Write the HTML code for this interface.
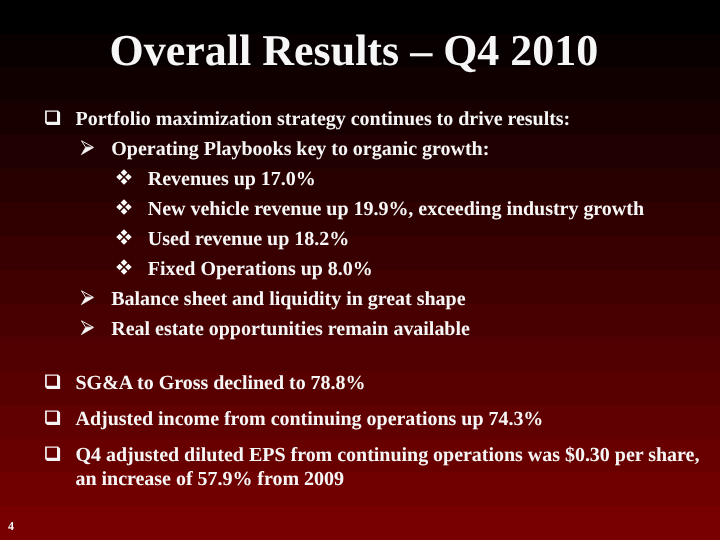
<!DOCTYPE html>
<html><head><meta charset="utf-8"><title>Overall Results – Q4 2010</title>
<style>
html,body{margin:0;padding:0;}
body{width:720px;height:540px;overflow:hidden;position:relative;
 background:linear-gradient(to bottom,#000000 0.0px,#000000 33.75px,#080000 33.75px,#080000 67.5px,#100000 67.5px,#100000 101.25px,#180000 101.25px,#180000 135.0px,#200000 135.0px,#200000 168.75px,#280000 168.75px,#280000 202.5px,#300000 202.5px,#300000 236.25px,#380000 236.25px,#380000 270.0px,#400000 270.0px,#400000 303.75px,#480000 303.75px,#480000 337.5px,#500000 337.5px,#500000 371.25px,#580000 371.25px,#580000 405.0px,#600000 405.0px,#600000 438.75px,#680000 438.75px,#680000 472.5px,#700000 472.5px,#700000 506.25px,#780000 506.25px,#780000 538.5px,#800000 538.5px,#800000 540px);
 font-family:"Liberation Serif",serif;font-weight:bold;color:#f6f6f6;text-rendering:geometricPrecision;}
.t{position:absolute;white-space:nowrap;line-height:1;}
#title{left:109.5px;top:28.5px;font-size:44px;}
.b{font-size:20px;letter-spacing:-0.025px;}
.pn{font-size:12px;left:8px;top:520px;}
svg{position:absolute;overflow:visible}
</style></head><body>
<div id="title" class="t">Overall Results – Q4 2010</div>
<svg style="left:45px;top:110.0px" width="16" height="16" viewBox="0 0 16 16"><path fill="#f4f4f4" fill-rule="evenodd" d="M0.1 0.5H13.1L15.1 2.5V15.1H2.1L0.1 13.1ZM1.8 1.75V11.8H12V1.75Z"/></svg>
<div class="t b" style="left:75.5px;top:109px">Portfolio maximization strategy continues to drive results:</div>
<svg style="left:81px;top:140.0px" width="14" height="16" viewBox="0 0 14 16"><path fill="#f8f8f8" stroke="#f8f8f8" stroke-width="0.4" stroke-linejoin="miter" d="M4.4 7.4H12.9L0.1 14.9Z"/><path fill="none" stroke="#ececec" stroke-width="1" stroke-linejoin="miter" d="M0.5 0.8L12.1 7.2H4.6Z"/></svg>
<div class="t b" style="left:111.3px;top:139px">Operating Playbooks key to organic growth:</div>
<svg style="left:116.3px;top:169.3px" width="16" height="16" viewBox="0 0 16 16"><path fill="#f8f8f8" d="M8.00 0.25L11.35 3.60L8.00 6.95L4.65 3.60ZM8.00 9.05L11.35 12.40L8.00 15.75L4.65 12.40ZM3.60 4.65L6.95 8.00L3.60 11.35L0.25 8.00ZM12.40 4.65L15.75 8.00L12.40 11.35L9.05 8.00Z"/></svg>
<div class="t b" style="left:147.8px;top:169px">Revenues up 17.0%</div>
<svg style="left:116.3px;top:199.3px" width="16" height="16" viewBox="0 0 16 16"><path fill="#f8f8f8" d="M8.00 0.25L11.35 3.60L8.00 6.95L4.65 3.60ZM8.00 9.05L11.35 12.40L8.00 15.75L4.65 12.40ZM3.60 4.65L6.95 8.00L3.60 11.35L0.25 8.00ZM12.40 4.65L15.75 8.00L12.40 11.35L9.05 8.00Z"/></svg>
<div class="t b" style="left:147.8px;top:199px">New vehicle revenue up 19.9%, exceeding industry growth</div>
<svg style="left:116.3px;top:229.2px" width="16" height="16" viewBox="0 0 16 16"><path fill="#f8f8f8" d="M8.00 0.25L11.35 3.60L8.00 6.95L4.65 3.60ZM8.00 9.05L11.35 12.40L8.00 15.75L4.65 12.40ZM3.60 4.65L6.95 8.00L3.60 11.35L0.25 8.00ZM12.40 4.65L15.75 8.00L12.40 11.35L9.05 8.00Z"/></svg>
<div class="t b" style="left:147.8px;top:229px">Used revenue up 18.2%</div>
<svg style="left:116.3px;top:259.2px" width="16" height="16" viewBox="0 0 16 16"><path fill="#f8f8f8" d="M8.00 0.25L11.35 3.60L8.00 6.95L4.65 3.60ZM8.00 9.05L11.35 12.40L8.00 15.75L4.65 12.40ZM3.60 4.65L6.95 8.00L3.60 11.35L0.25 8.00ZM12.40 4.65L15.75 8.00L12.40 11.35L9.05 8.00Z"/></svg>
<div class="t b" style="left:147.8px;top:259px">Fixed Operations up 8.0%</div>
<svg style="left:81px;top:289.8px" width="14" height="16" viewBox="0 0 14 16"><path fill="#f8f8f8" stroke="#f8f8f8" stroke-width="0.4" stroke-linejoin="miter" d="M4.4 7.4H12.9L0.1 14.9Z"/><path fill="none" stroke="#ececec" stroke-width="1" stroke-linejoin="miter" d="M0.5 0.8L12.1 7.2H4.6Z"/></svg>
<div class="t b" style="left:111.3px;top:289px">Balance sheet and liquidity in great shape</div>
<svg style="left:81px;top:319.8px" width="14" height="16" viewBox="0 0 14 16"><path fill="#f8f8f8" stroke="#f8f8f8" stroke-width="0.4" stroke-linejoin="miter" d="M4.4 7.4H12.9L0.1 14.9Z"/><path fill="none" stroke="#ececec" stroke-width="1" stroke-linejoin="miter" d="M0.5 0.8L12.1 7.2H4.6Z"/></svg>
<div class="t b" style="left:111.3px;top:319px">Real estate opportunities remain available</div>
<svg style="left:45px;top:373.7px" width="16" height="16" viewBox="0 0 16 16"><path fill="#f4f4f4" fill-rule="evenodd" d="M0.1 0.5H13.1L15.1 2.5V15.1H2.1L0.1 13.1ZM1.8 1.75V11.8H12V1.75Z"/></svg>
<div class="t b" style="left:75.5px;top:373px">SG&amp;A to Gross declined to 78.8%</div>
<svg style="left:45px;top:409.7px" width="16" height="16" viewBox="0 0 16 16"><path fill="#f4f4f4" fill-rule="evenodd" d="M0.1 0.5H13.1L15.1 2.5V15.1H2.1L0.1 13.1ZM1.8 1.75V11.8H12V1.75Z"/></svg>
<div class="t b" style="left:75.5px;top:409px">Adjusted income from continuing operations up 74.3%</div>
<svg style="left:45px;top:445.6px" width="16" height="16" viewBox="0 0 16 16"><path fill="#f4f4f4" fill-rule="evenodd" d="M0.1 0.5H13.1L15.1 2.5V15.1H2.1L0.1 13.1ZM1.8 1.75V11.8H12V1.75Z"/></svg>
<div class="t b" style="left:75.5px;top:445px">Q4 adjusted diluted EPS from continuing operations was $0.30 per share,</div>
<div class="t b" style="left:75.5px;top:469px">an increase of 57.9% from 2009</div>
<div class="t pn">4</div>
</body></html>
